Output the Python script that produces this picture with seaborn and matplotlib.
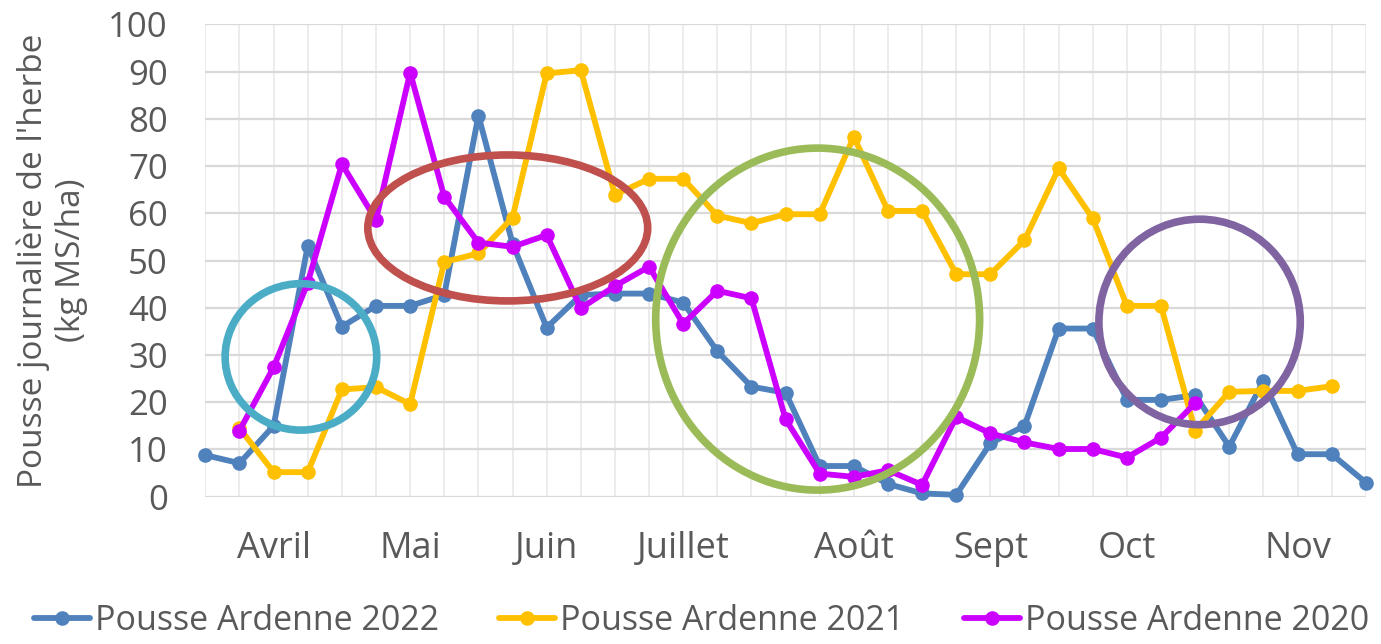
import matplotlib
matplotlib.use('Agg')
import matplotlib.pyplot as plt
from matplotlib.patches import Ellipse
import pandas as pd
import seaborn as sns

# weekly samples (35 positions), months labelled on some of them
weeks = list(range(35))
month_labels = {2: 'Avril', 6: 'Mai', 10: 'Juin', 14: 'Juillet', 19: 'Août',
                23: 'Sept', 27: 'Oct', 32: 'Nov'}

pousse_2022 = [8.8, 7.1, 15.0, 53.1, 36.0, 40.4, 40.4, 42.7, 80.7, 53.6, 35.8,
               42.7, 43.0, 43.0, 41.1, 30.8, 23.3, 22.0, 6.5, 6.5, 2.7, 0.7, 0.4,
               11.3, 15.0, 35.6, 35.6, 20.5, 20.5, 21.5, 10.6, 24.5, 9.0, 9.0, 3.0]
# 2021 and 2020 start one week later
pousse_2021 = [14.5, 5.2, 5.2, 22.7, 23.2, 19.6, 49.7, 51.5, 59.1, 89.6, 90.3,
               63.9, 67.3, 67.3, 59.5, 57.9, 59.8, 59.8, 76.2, 60.5, 60.5, 47.1,
               47.1, 54.3, 69.5, 58.9, 40.4, 40.4, 14.0, 22.2, 22.4, 22.4, 23.4]
pousse_2020 = [14.0, 27.4, 45.3, 70.4, 58.6, 89.8, 63.5, 53.8, 52.9, 55.4, 39.9,
               44.6, 48.7, 36.6, 43.6, 42.0, 16.4, 4.9, 4.2, 5.6, 2.5, 16.9, 13.4,
               11.5, 10.1, 10.1, 8.3, 12.5, 19.8]

series = [
    ('Pousse Ardenne 2022', weeks, pousse_2022, '#4F81BD'),
    ('Pousse Ardenne 2021', weeks[1:1 + len(pousse_2021)], pousse_2021, '#FFC000'),
    ('Pousse Ardenne 2020', weeks[1:1 + len(pousse_2020)], pousse_2020, '#CC00FF'),
]

# highlight ellipses: (centre week, centre value, width in weeks, height in values, colour)
highlights = [
    (2.8, 29.6, 4.44, 31.0, '#4BACC6'),
    (8.86, 56.9, 8.2, 30.9, '#C0504D'),
    (17.94, 37.6, 9.49, 72.4, '#9BBB59'),
    (29.13, 37.0, 5.9, 43.5, '#8064A2'),
]

sns.set_theme(style='white')
plt.rcParams['font.family'] = ['Open Sans', 'DejaVu Sans']
grey = '#595959'

fig = plt.figure(figsize=(13.81, 6.44), dpi=100)
ax = fig.add_axes([0.1487, 0.2287, 0.8403, 0.7335])

for name, xs, ys, col in series:
    df = pd.DataFrame({'semaine': xs, 'pousse': ys})
    sns.lineplot(data=df, x='semaine', y='pousse', ax=ax, color=col, lw=4.2,
                 marker='o', markersize=10.5, markeredgewidth=0, label=name,
                 clip_on=False, zorder=3)

for cx, cy, w, h, col in highlights:
    ax.add_patch(Ellipse((cx, cy), w, h, fill=False, edgecolor=col, lw=5.5,
                         zorder=4, clip_on=False))

ax.set_xlim(0, 34)
ax.set_ylim(0, 100)
ax.set_yticks(range(0, 101, 10))
ax.set_xticks(weeks)
ax.set_xticklabels([month_labels.get(w, '') for w in weeks])
ax.tick_params(axis='x', length=9, width=1.5, color='#D9D9D9', pad=16,
               labelsize=26, labelcolor=grey)
ax.tick_params(axis='y', length=0, pad=27, labelsize=25, labelcolor=grey)
ax.yaxis.grid(True, color='#D9D9D9', lw=1.6)
ax.xaxis.grid(True, color='#EBEBEB', lw=1.3)
for s in ax.spines.values():
    s.set_visible(False)

ax.set_xlabel('')
ax.set_ylabel("Pousse journalière de l'herbe\n(kg MS/ha)", fontsize=24, color=grey,
              linespacing=1.2)
ax.yaxis.set_label_coords(-0.101, 0.5)

ax.legend_.remove()
handles, labels = ax.get_legend_handles_labels()
fig.legend(handles, labels, loc='lower center', ncol=3, frameon=False,
           bbox_to_anchor=(0.508, -0.038), fontsize=24.5, labelcolor=grey,
           handlelength=1.65, handletextpad=0.15, columnspacing=1.75)

fig.savefig('out.png', dpi=100)
